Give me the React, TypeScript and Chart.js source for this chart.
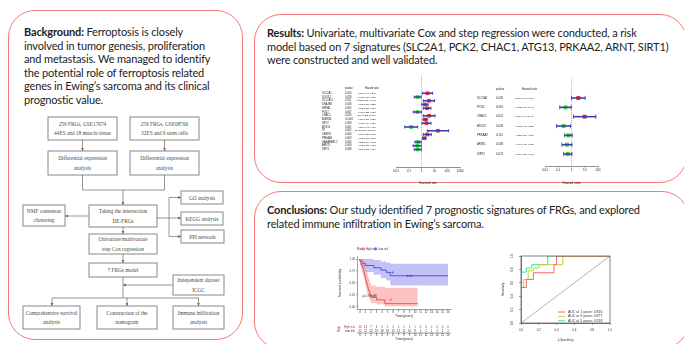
import React, { useEffect, useRef } from "react";
import { Chart, registerables } from "chart.js";

Chart.register(...registerables);

// ---------- univariate Cox regression ----------
const uniGenes = ["SLC2A1", "DUOX1", "SLC7A11", "DNAJB6", "HSPA5", "PCK2", "CHAC1", "AURKA", "GPT2", "ATG13", "TF", "CEBPG", "PRKAA2", "GABARAPL2", "ARNTL", "SIRT1"];
const uniP = ["0.024", "0.029", "0.011", "0.033", "0.005", "0.047", "0.013", "<0.001", "0.033", "0.001", "0.002", "0.006", "0.003", "0.030", "0.040", "0.038"];
const uniHR = [2.894, 0.498, 3.758, 1.843, 2.663, 0.467, 3.846, 1.916, 2.405, 0.154, 18.675, 2.766, 1.607, 0.535, 0.458, 0.509];
const uniLow = [1.147, 0.267, 1.352, 1.050, 1.336, 0.225, 1.333, 1.307, 1.074, 0.048, 2.789, 1.336, 1.175, 0.304, 0.219, 0.268];
const uniHigh = [7.307, 0.930, 10.445, 3.232, 5.290, 0.981, 11.097, 2.787, 5.386, 0.491, 130.616, 5.725, 2.201, 0.942, 0.958, 0.964];
const uniTicks = [0.01, 0.1, 1, 10, 100, 1000];
const uniTickLabels = ["0.01", "0.1", "1", "10", "100", "1000"];

// ---------- multivariate Cox regression ----------
const multiGenes = ["SLC2A1", "PCK2", "CHAC1", "ATG13", "PRKAA2", "ARNTL", "SIRT1"];
const multiP = ["0.048", "0.019", "0.021", "0.028", "0.113", "0.083", "0.074"];
const multiHR = [3.285, 0.352, 9.785, 0.253, 0.587, 0.454, 0.524];
const multiLow = [1.010, 0.130, 1.404, 0.075, 0.304, 0.190, 0.259];
const multiHigh = [10.707, 0.948, 68.416, 0.855, 1.115, 1.082, 1.065];
const multiTicks = [0.01, 0.1, 1, 10, 100];
const multiTickLabels = ["0.01", "0.1", "1", "10", "100"];

// ---------- Kaplan-Meier, high / low risk ----------
const kmHighTime = [0, 0.15, 0.3, 0.45, 0.6, 0.7, 0.8, 0.9, 1.0, 1.1, 1.2, 1.3, 1.4, 1.5, 1.65, 1.8, 2.0, 3.0, 4.5, 6.8, 10.5];
const kmHighSurv = [1, 0.955, 0.909, 0.864, 0.818, 0.773, 0.727, 0.682, 0.636, 0.591, 0.545, 0.5, 0.455, 0.409, 0.364, 0.318, 0.25, 0.2, 0.15, 0.07, 0.07];
const kmHighUpper = [1, 1, 1, 1, 0.99, 0.96, 0.93, 0.89, 0.85, 0.81, 0.77, 0.73, 0.69, 0.65, 0.61, 0.57, 0.5, 0.45, 0.42, 0.4, 0.4];
const kmHighLower = [1, 0.87, 0.8, 0.74, 0.68, 0.62, 0.57, 0.52, 0.47, 0.42, 0.37, 0.33, 0.29, 0.25, 0.21, 0.17, 0.12, 0.08, 0.05, 0.015, 0.015];
const kmLowTime = [0, 0.4, 1.0, 2.5, 3.8, 4.8, 5.5, 8.0, 16];
const kmLowSurv = [1, 0.955, 0.909, 0.864, 0.818, 0.77, 0.72, 0.65, 0.65];
const kmLowUpper = [1, 1, 1, 1, 0.98, 0.95, 0.92, 0.9, 0.9];
const kmLowLower = [1, 0.87, 0.8, 0.73, 0.67, 0.6, 0.55, 0.45, 0.45];
const kmHighCensor = [2.6, 5.6];
const kmLowCensor = [5.9, 8.6, 9.0, 9.4];
const kmYears = [0, 1, 2, 3, 4, 5, 6, 7, 8, 9, 10, 11, 12, 13, 14, 15, 16];
const riskHigh = [22, 14, 7, 6, 5, 2, 2, 2, 1, 1, 1, 0, 0, 0, 0, 0, 0];
const riskLow = [22, 21, 20, 19, 18, 16, 15, 11, 11, 10, 8, 5, 1, 1, 1, 1, 1];
const kmSurvTicks = [0, 0.25, 0.5, 0.75, 1];
const kmPValue = "p=1.769e-06";

// ---------- time-dependent ROC ----------
const roc1Fpr = [0, 0, 0.06, 0.14, 0.37, 0.4, 0.69, 1];
const roc1Tpr = [0, 0.43, 0.53, 0.65, 0.75, 0.87, 1, 1];
const roc3Fpr = [0, 0, 0.03, 0.08, 0.14, 0.2, 0.47, 0.55, 1];
const roc3Tpr = [0, 0.4, 0.53, 0.65, 0.78, 0.82, 0.87, 1, 1];
const roc5Fpr = [0, 0, 0.06, 0.12, 0.3, 0.47, 1];
const roc5Tpr = [0, 0.73, 0.76, 0.82, 0.87, 1, 1];
const rocLabels = ["AUC at 1 years: 0.816", "AUC at 3 years: 0.877", "AUC at 5 years: 0.918"];
const rocColors = ["#f06a6a", "#c9cf35", "#34e6a2"];
const rocTicks = [0, 0.2, 0.4, 0.6, 0.8, 1];

const SANS = '"Liberation Sans", Arial, sans-serif';
const NAVY = "#3b3ba8";
const fontOf = (s: number) => `${s}px ${SANS}`;

function fmt(v: number) {
  return v.toFixed(3);
}

function forestConfig(o: any) {
  const rows = o.genes.map((_: string, i: number) => i);
  const textPlugin = {
    id: "forestText",
    beforeDatasetsDraw(chart: any) {
      const { ctx, chartArea: ca, scales } = chart;
      const px = scales.x.getPixelForValue(1);
      ctx.save();
      ctx.strokeStyle = "#888";
      ctx.lineWidth = 0.6;
      ctx.setLineDash([1, 1]);
      ctx.beginPath();
      ctx.moveTo(px, ca.top);
      ctx.lineTo(px, ca.bottom);
      ctx.stroke();
      ctx.restore();
    },
    afterDraw(chart: any) {
      const { ctx, scales } = chart;
      const y = scales.y;
      ctx.save();
      ctx.fillStyle = "#222";
      ctx.textBaseline = "middle";
      const hy = y.getPixelForValue(o.headerRow);
      ctx.font = fontOf(o.fontSize);
      ctx.textAlign = "left";
      ctx.fillText("pvalue", o.pX, hy);
      ctx.textAlign = "right";
      ctx.fillText("Hazard ratio", o.hrX + 3, hy);
      rows.forEach((i: number) => {
        const py = y.getPixelForValue(i);
        ctx.font = fontOf(o.fontSize);
        ctx.textAlign = "left";
        ctx.fillText(o.genes[i], o.nameX, py);
        ctx.fillText(o.p[i], o.pX, py);
        ctx.font = fontOf(o.hrFontSize);
        ctx.textAlign = "right";
        ctx.fillText(`${fmt(o.hr[i])}(${fmt(o.lo[i])}\u2013${fmt(o.hi[i])})`, o.hrX, py);
      });
      ctx.restore();
    },
  };
  return {
    type: "bar",
    data: {
      datasets: [
        {
          type: "bar",
          data: rows.map((i: number) => ({ y: i, x: [o.lo[i], o.hi[i]] })),
          backgroundColor: NAVY,
          barThickness: 0.9,
        },
        {
          type: "scatter",
          data: rows.flatMap((i: number) => [
            { x: o.lo[i], y: i },
            { x: o.hi[i], y: i },
          ]),
          pointStyle: "line",
          rotation: 90,
          pointRadius: o.capR,
          borderColor: NAVY,
          borderWidth: 0.8,
        },
        {
          type: "scatter",
          data: rows.map((i: number) => ({ x: o.hr[i], y: i })),
          pointStyle: "rect",
          pointRadius: o.markR,
          backgroundColor: rows.map((i: number) => (o.hr[i] > 1 ? "#ff2a2a" : "#25e025")),
          borderWidth: 0,
        },
      ],
    },
    options: {
      indexAxis: "y",
      animation: false,
      responsive: false,
      events: [],
      layout: { padding: o.padding },
      plugins: { legend: { display: false }, tooltip: { enabled: false } },
      scales: {
        x: {
          type: "logarithmic",
          min: o.ticks[0],
          max: o.ticks[o.ticks.length - 1],
          afterBuildTicks: (s: any) => {
            s.ticks = o.ticks.map((v: number) => ({ value: v }));
          },
          afterFit: (s: any) => {
            s.height = o.axisH;
          },
          ticks: {
            autoSkip: false,
            maxRotation: 0,
            padding: 0.5,
            font: { size: 3.1, family: SANS },
            color: "#222",
            callback: (_v: any, i: number) => o.tickLabels[i],
          },
          grid: { drawOnChartArea: false, drawTicks: true, tickLength: 1.5, color: "#444", lineWidth: 0.5 },
          border: { display: true, color: "#444", width: 0.6 },
          title: { display: true, text: "Hazard ratio", font: { size: 3.3, family: SANS }, color: "#222", padding: { top: 0, bottom: 0 } },
        },
        y: { type: "linear", min: o.yMin, max: o.yMax, reverse: true, display: false },
      },
    },
    plugins: [textPlugin],
  };
}

function stepValue(times: number[], surv: number[], t: number) {
  let s = surv[0];
  for (let i = 0; i < times.length; i++) if (times[i] <= t) s = surv[i];
  return s;
}

function kmConfig() {
  const pts = (t: number[], s: number[]) => t.map((v, i) => ({ x: v, y: s[i] }));
  const band = (t: number[], s: number[], color: string, fill: any) => ({
    data: pts(t, s),
    stepped: "after",
    borderWidth: 0,
    pointRadius: 0,
    backgroundColor: color,
    fill,
  });
  const extras = {
    id: "kmExtras",
    afterDraw(chart: any) {
      const { ctx, chartArea: ca, scales } = chart;
      const x = scales.x;
      ctx.save();
      ctx.textBaseline = "middle";
      // legend
      const ly = ca.top - 7.6;
      ctx.font = fontOf(2.8);
      ctx.fillStyle = "#333";
      ctx.textAlign = "left";
      ctx.fillText("Risk", ca.left, ly);
      const item = (x0: number, fillC: string, lineC: string, label: string) => {
        ctx.fillStyle = fillC;
        ctx.fillRect(x0, ly - 1.5, 3, 3);
        ctx.strokeStyle = lineC;
        ctx.lineWidth = 0.6;
        ctx.beginPath();
        ctx.moveTo(x0, ly);
        ctx.lineTo(x0 + 3, ly);
        ctx.stroke();
        ctx.fillStyle = "#333";
        ctx.fillText(label, x0 + 3.8, ly);
      };
      item(ca.left + 5, "rgba(255,120,120,0.6)", "#e52424", "High risk");
      item(ca.left + 17, "rgba(120,120,235,0.6)", "#2222aa", "Low risk");
      // p value
      ctx.font = fontOf(2.6);
      ctx.fillStyle = "#333";
      ctx.fillText(kmPValue, x.getPixelForValue(0.4), scales.y.getPixelForValue(0.215));
      // risk table
      const rowH = ca.bottom + 17.6;
      const rowL = ca.bottom + 21.6;
      ctx.font = fontOf(2.8);
      ctx.textAlign = "center";
      kmYears.forEach((t, i) => {
        const px = x.getPixelForValue(t);
        ctx.fillStyle = "#d42020";
        ctx.fillText(String(riskHigh[i]), px, rowH);
        ctx.fillStyle = "#2222aa";
        ctx.fillText(String(riskLow[i]), px, rowL);
      });
      ctx.textAlign = "right";
      ctx.fillStyle = "#d42020";
      ctx.fillText("High risk", ca.left - 2, rowH);
      ctx.fillStyle = "#2222aa";
      ctx.fillText("Low risk", ca.left - 2, rowL);
      ctx.save();
      ctx.translate(ca.left - 18, (rowH + rowL) / 2);
      ctx.rotate(-Math.PI / 2);
      ctx.textAlign = "center";
      ctx.fillStyle = "#333";
      ctx.fillText("Risk", 0, 0);
      ctx.restore();
      // time axis under the table
      const ay = ca.bottom + 23.6;
      ctx.strokeStyle = "#444";
      ctx.lineWidth = 0.5;
      ctx.beginPath();
      ctx.moveTo(ca.left, ay);
      ctx.lineTo(ca.right, ay);
      kmYears.forEach((t) => {
        const px = x.getPixelForValue(t);
        ctx.moveTo(px, ay);
        ctx.lineTo(px, ay + 1);
      });
      ctx.stroke();
      ctx.fillStyle = "#333";
      ctx.textAlign = "center";
      ctx.font = fontOf(2.8);
      kmYears.forEach((t) => ctx.fillText(String(t), x.getPixelForValue(t), ay + 2.6));
      ctx.font = fontOf(3.4);
      ctx.fillText("Time(years)", (ca.left + ca.right) / 2, ay + 6.2);
      ctx.restore();
    },
  };
  return {
    type: "line",
    data: {
      datasets: [
        band(kmHighTime, kmHighUpper, "rgba(250,120,120,0.45)", "+1"),
        band(kmHighTime, kmHighLower, "rgba(0,0,0,0)", false),
        band(kmLowTime, kmLowUpper, "rgba(120,120,240,0.45)", "+1"),
        band(kmLowTime, kmLowLower, "rgba(0,0,0,0)", false),
        { data: pts(kmHighTime, kmHighSurv), stepped: "after", borderColor: "#e52424", borderWidth: 0.9, pointRadius: 0, fill: false },
        { data: pts(kmLowTime, kmLowSurv), stepped: "after", borderColor: "#2222aa", borderWidth: 0.9, pointRadius: 0, fill: false },
        {
          type: "scatter",
          data: kmHighCensor.map((t) => ({ x: t, y: stepValue(kmHighTime, kmHighSurv, t) })),
          pointStyle: "cross",
          pointRadius: 1.2,
          borderColor: "#e52424",
          borderWidth: 0.6,
        },
        {
          type: "scatter",
          data: kmLowCensor.map((t) => ({ x: t, y: stepValue(kmLowTime, kmLowSurv, t) })),
          pointStyle: "cross",
          pointRadius: 1.2,
          borderColor: "#2222aa",
          borderWidth: 0.6,
        },
      ],
    },
    options: {
      animation: false,
      responsive: false,
      events: [],
      layout: { padding: { left: 12, right: 11, top: 13.6, bottom: 25 } },
      plugins: { legend: { display: false }, tooltip: { enabled: false } },
      scales: {
        x: {
          type: "linear",
          min: -0.55,
          max: 16.55,
          afterBuildTicks: (s: any) => {
            s.ticks = kmYears.map((v) => ({ value: v }));
          },
          afterFit: (s: any) => {
            s.height = 8.6;
          },
          ticks: { autoSkip: false, maxRotation: 0, padding: 0, font: { size: 2.8, family: SANS }, color: "#333" },
          grid: { drawOnChartArea: false, tickLength: 1, color: "#444", lineWidth: 0.5 },
          border: { color: "#444", width: 0.5 },
          title: { display: true, text: "Time(years)", font: { size: 3.4, family: SANS }, color: "#333", padding: 0 },
        },
        y: {
          type: "linear",
          min: -0.05,
          max: 1.05,
          afterBuildTicks: (s: any) => {
            s.ticks = kmSurvTicks.map((v) => ({ value: v }));
          },
          afterFit: (s: any) => {
            s.width = 23;
          },
          ticks: { padding: 1, font: { size: 2.8, family: SANS }, color: "#333", callback: (v: any) => Number(v).toFixed(2) },
          grid: { drawOnChartArea: false, tickLength: 1, color: "#444", lineWidth: 0.5 },
          border: { color: "#444", width: 0.5 },
          title: { display: true, text: "Survival probability", font: { size: 3.4, family: SANS }, color: "#333", padding: { top: 4, bottom: 0 } },
        },
      },
    },
    plugins: [extras],
  };
}

function rocConfig() {
  const line = (f: number[], t: number[], c: string) => ({
    data: f.map((v, i) => ({ x: v, y: t[i] })),
    stepped: "after",
    borderColor: c,
    borderWidth: 1,
    pointRadius: 0,
    fill: false,
  });
  const extras = {
    id: "rocExtras",
    afterDraw(chart: any) {
      const { ctx, chartArea: ca, scales } = chart;
      ctx.save();
      ctx.strokeStyle = "#333";
      ctx.lineWidth = 0.6;
      ctx.strokeRect(ca.left, ca.top, ca.right - ca.left, ca.bottom - ca.top);
      // rotated y tick labels
      ctx.fillStyle = "#333";
      ctx.font = fontOf(2.9);
      ctx.textAlign = "center";
      ctx.textBaseline = "middle";
      rocTicks.forEach((v) => {
        ctx.save();
        ctx.translate(ca.left - 8.5, scales.y.getPixelForValue(v));
        ctx.rotate(-Math.PI / 2);
        ctx.fillText(v.toFixed(1), 0, 0);
        ctx.restore();
      });
      // legend
      ctx.font = fontOf(3.5);
      ctx.textAlign = "left";
      rocLabels.forEach((lab, i) => {
        const y = ca.bottom - 11 + i * 4.4;
        ctx.strokeStyle = rocColors[i];
        ctx.lineWidth = 1;
        ctx.beginPath();
        ctx.moveTo(ca.left + 37, y);
        ctx.lineTo(ca.left + 44, y);
        ctx.stroke();
        ctx.fillStyle = "#333";
        ctx.fillText(lab, ca.left + 47, y);
      });
      ctx.restore();
    },
  };
  return {
    type: "line",
    data: {
      datasets: [
        { data: [{ x: 0, y: 0 }, { x: 1, y: 1 }], borderColor: "#666", borderWidth: 0.5, pointRadius: 0, fill: false },
        line(roc1Fpr, roc1Tpr, rocColors[0]),
        line(roc3Fpr, roc3Tpr, rocColors[1]),
        line(roc5Fpr, roc5Tpr, rocColors[2]),
      ],
    },
    options: {
      animation: false,
      responsive: false,
      events: [],
      layout: { padding: { left: 3, right: 8, top: 8, bottom: 0 } },
      plugins: { legend: { display: false }, tooltip: { enabled: false } },
      scales: {
        x: {
          type: "linear",
          min: 0,
          max: 1,
          afterBuildTicks: (s: any) => {
            s.ticks = rocTicks.map((v) => ({ value: v }));
          },
          afterFit: (s: any) => {
            s.height = 21;
          },
          ticks: { autoSkip: false, maxRotation: 0, padding: 3, font: { size: 2.9, family: SANS }, color: "#333", callback: (v: any) => Number(v).toFixed(1) },
          grid: { drawOnChartArea: false, tickLength: 2, color: "#444", lineWidth: 0.5 },
          border: { color: "#333", width: 0.6 },
          title: { display: true, text: "1-Specificity", font: { size: 3, family: SANS }, color: "#333", padding: { top: 0, bottom: 2.2 } },
        },
        y: {
          type: "linear",
          min: 0,
          max: 1,
          afterBuildTicks: (s: any) => {
            s.ticks = rocTicks.map((v) => ({ value: v }));
          },
          afterFit: (s: any) => {
            s.width = 22;
          },
          ticks: { display: false },
          grid: { drawOnChartArea: false, tickLength: 2, color: "#444", lineWidth: 0.5 },
          border: { color: "#333", width: 0.6 },
          title: { display: true, text: "Sensitivity", font: { size: 3, family: SANS }, color: "#333", padding: { top: 2.2, bottom: 0 } },
        },
      },
    },
    plugins: [extras],
  };
}

function ChartCanvas({ left, top, width, height, make }: any) {
  const ref = useRef<HTMLCanvasElement>(null);
  useEffect(() => {
    const chart = new Chart(ref.current as HTMLCanvasElement, make());
    return () => chart.destroy();
  }, []);
  return <canvas ref={ref} width={width} height={height} style={{ position: "absolute", left, top, width, height }} />;
}

const BORDER = "#f27a7a";
const panel = (left: number, top: number, width: number, height: number): React.CSSProperties => ({
  position: "absolute",
  left,
  top,
  width,
  height,
  border: `1.3px solid ${BORDER}`,
  borderRadius: 27,
  boxSizing: "border-box",
});

const textStyle = (left: number, top: number): React.CSSProperties => ({
  position: "absolute",
  left,
  top,
  fontFamily: 'Lato, "Open Sans", sans-serif',
  fontSize: 11,
  letterSpacing: "-0.15px",
  lineHeight: "13.6px",
  color: "#222",
  whiteSpace: "nowrap",
});

function FlowChart() {
  const stroke = "#6a6a6a";
  const box = (x: number, y: number, w: number, h: number, lines: string[]) => {
    const cx = x + w / 2;
    const cy = y + h / 2;
    const step = 9.6;
    const y0 = cy - ((lines.length - 1) * step) / 2;
    return (
      <g key={`${x}-${y}`}>
        <rect x={x} y={y} width={w} height={h} fill="#fff" stroke={stroke} strokeWidth={0.8} />
        {lines.map((l, i) => (
          <text key={i} x={cx} y={y0 + i * step} textAnchor="middle" dominantBaseline="central" fontSize={5.3} fontFamily='"Liberation Serif", serif' fill="#4a4a4a">
            {l}
          </text>
        ))}
      </g>
    );
  };
  const arrow = (d: string, key: string) => <path key={key} d={d} fill="none" stroke={stroke} strokeWidth={0.7} markerEnd="url(#ah)" />;
  const seg = (d: string, key: string) => <path key={key} d={d} fill="none" stroke={stroke} strokeWidth={0.7} />;
  return (
    <svg width={250} height={344} style={{ position: "absolute", left: 0, top: 0 }}>
      <defs>
        <marker id="ah" markerWidth="4" markerHeight="4" refX="3" refY="2" orient="auto" markerUnits="userSpaceOnUse">
          <path d="M0,0.6 L3,2 L0,3.4 z" fill={stroke} />
        </marker>
      </defs>
      {arrow("M82.5,140 L82.5,151", "a1")}
      {arrow("M164.5,140 L164.5,151", "a2")}
      {seg("M82.5,175 L82.5,190 L164.5,190 L164.5,175", "s1")}
      {arrow("M123,190 L123,205", "a3")}
      {arrow("M89,216 L65,216", "a4")}
      {arrow("M157,218 L181,218", "a5")}
      {seg("M169,197.5 L169,236.5", "s2")}
      {arrow("M169,197.5 L181,197.5", "a6")}
      {arrow("M169,236.5 L181,236.5", "a7")}
      {arrow("M123,227 L123,234", "a8")}
      {arrow("M123,254 L123,263", "a9")}
      {seg("M123,277 L123,298", "s3")}
      {arrow("M173,285 L123,285", "a10")}
      {seg("M52,298 L199,298", "s4")}
      {arrow("M52,298 L52,306", "a11")}
      {arrow("M127,298 L127,306", "a12")}
      {arrow("M198.5,298 L198.5,306", "a13")}
      {box(48, 117, 69, 23, ["259 FRGs, GSE17674", "44ES and 18 muscle tissue"])}
      {box(130, 117, 69, 23, ["259 FRGs, GSE68760", "32ES and 9 stem cells"])}
      {box(48, 151, 69, 24, ["Differential expression", "analysis"])}
      {box(130, 151, 69, 24, ["Differential expression", "analysis"])}
      {box(89, 205, 68, 22, ["Taking the intersection", "DE-FRGs"])}
      {box(23, 205, 42, 21, ["NMF consensus", "clustering"])}
      {box(181, 191, 42, 13, ["GO analysis"])}
      {box(181, 212, 42, 13, ["KEGG analysis"])}
      {box(181, 230, 43, 13, ["PPI network"])}
      {box(89, 234, 68, 20, ["Univariate/multivariate", "step Cox regression"])}
      {box(89, 263, 68, 14, ["7 FRGs model"])}
      {box(173, 275, 51, 20, ["Independent dataset", "ICGC"])}
      {box(23, 306, 57, 23, ["Comprehensive survival", "analysis"])}
      {box(97, 306, 60, 23, ["Construction of the", "nomogram"])}
      {box(173, 306, 51, 23, ["Immune infiltration", "analysis"])}
    </svg>
  );
}

export default function App() {
  return (
    <div style={{ position: "fixed", left: 0, top: 0, width: 684, height: 344, overflow: "hidden", background: "#fff" }}>
      <div style={panel(8, 10, 235, 330)} />
      <div style={panel(254, 14, 433, 169)} />
      <div style={panel(254, 191, 435, 158)} />

      <div style={textStyle(24, 25)}>
        <b>Background:</b> Ferroptosis is closely
        <br />
        involved in tumor genesis, proliferation
        <br />
        and metastasis. We managed to identify
        <br />
        the potential role of ferroptosis related
        <br />
        genes in Ewing’s sarcoma and its clinical
        <br />
        prognostic value.
      </div>
      <div style={textStyle(267, 26)}>
        <b>Results:</b> Univariate, multivariate Cox and step regression were conducted, a risk
        <br />
        model based on 7 signatures (SLC2A1, PCK2, CHAC1, ATG13, PRKAA2, ARNT, SIRT1)
        <br />
        were constructed and well validated.
      </div>
      <div style={textStyle(267, 203)}>
        <b>Conclusions:</b> Our study identified 7 prognostic signatures of FRGs, and explored
        <br />
        related immune infiltration in Ewing’s sarcoma.
      </div>

      <FlowChart />

      <ChartCanvas
        left={315}
        top={70}
        width={160}
        height={115}
        make={() =>
          forestConfig({
            genes: uniGenes,
            p: uniP,
            hr: uniHR,
            lo: uniLow,
            hi: uniHigh,
            ticks: uniTicks,
            tickLabels: uniTickLabels,
            yMin: -1.8,
            yMax: 16.6,
            headerRow: -1.4,
            padding: { left: 81, right: 15, top: 5, bottom: 0 },
            axisH: 18,
            nameX: 7,
            pX: 30,
            hrX: 61,
            fontSize: 2.6,
            hrFontSize: 2.05,
            capR: 1.6,
            markR: 2.6,
          })
        }
      />
      <ChartCanvas
        left={470}
        top={73}
        width={140}
        height={112}
        make={() =>
          forestConfig({
            genes: multiGenes,
            p: multiP,
            hr: multiHR,
            lo: multiLow,
            hi: multiHigh,
            ticks: multiTicks,
            tickLabels: multiTickLabels,
            yMin: -1.2,
            yMax: 6.34,
            headerRow: -0.95,
            padding: { left: 75, right: 12, top: 5, bottom: 0 },
            axisH: 19,
            nameX: 7,
            pX: 26,
            hrX: 64,
            fontSize: 2.8,
            hrFontSize: 2.1,
            capR: 2.2,
            markR: 2.8,
          })
        }
      />
      <ChartCanvas left={322} top={243} width={140} height={100} make={kmConfig} />
      <ChartCanvas left={496} top={248} width={122} height={96} make={rocConfig} />
    </div>
  );
}
